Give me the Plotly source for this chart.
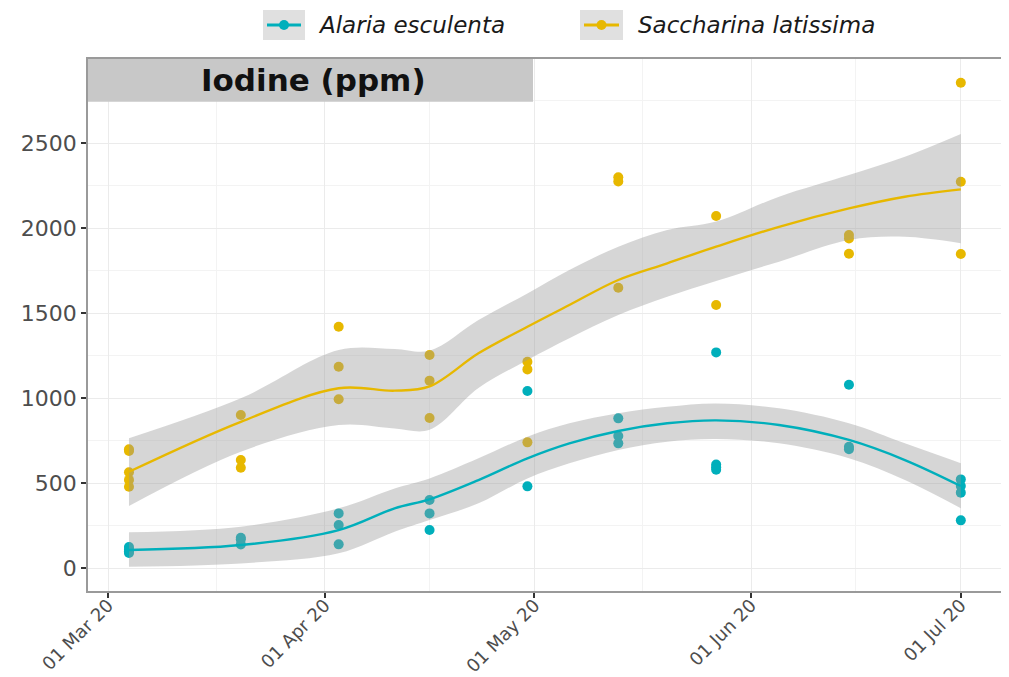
import plotly.graph_objects as go

# ---------------- data ----------------
sample_dates = ["2020-03-04", "2020-03-20", "2020-04-03", "2020-04-16", "2020-04-30",
                "2020-05-13", "2020-05-27", "2020-06-15", "2020-07-01"]

alaria_values = [[125, 110, 100, 90], [180, 170, 140], [323, 255, 141], [402, 323, 225],
                 [1043, 482], [882, 778, 735], [1270, 610, 595, 580], [1080, 715, 700],
                 [523, 484, 445, 282]]

saccharina_values = [[700, 690, 565, 520, 480], [902, 637, 592], [1421, 1186, 994],
                     [1255, 1104, 884], [1215, 1170, 741], [2300, 2275, 1650], [2072, 1549],
                     [1960, 1940, 1850], [2856, 2274, 1849]]

smooth_dates = ["2020-03-04", "2020-03-20", "2020-04-03", "2020-04-11", "2020-04-16",
                "2020-04-23", "2020-04-30", "2020-05-06", "2020-05-13", "2020-05-20",
                "2020-05-27", "2020-06-05", "2020-06-15", "2020-06-23", "2020-07-01"]

alaria_fit = [108, 137, 225, 353, 406, 519, 647, 735, 808, 853, 870, 843, 755, 637, 484]
alaria_upper = [212, 245, 353, 470, 529, 647, 774, 853, 912, 950, 970, 941, 853, 735, 618]
alaria_lower = [9, 29, 88, 215, 284, 382, 529, 618, 696, 745, 760, 735, 647, 519, 353]

sacch_fit = [568, 862, 1059, 1045, 1070, 1265, 1421, 1549, 1696, 1794, 1892, 2009, 2117, 2186, 2229]
sacch_upper = [765, 1000, 1284, 1290, 1280, 1460, 1617, 1755, 1892, 1990, 2040, 2186, 2313, 2421, 2555]
sacch_lower = [367, 686, 843, 823, 815, 1060, 1225, 1353, 1490, 1597, 1690, 1804, 1931, 1950, 1912]

species = ["Alaria esculenta", "Saccharina latissima"]
colors = ["#00AFBB", "#E7B800"]

y_ticks = [0, 500, 1000, 1500, 2000, 2500]
y_minor = [250, 750, 1250, 1750, 2250, 2750]
x_ticks = ["2020-03-01", "2020-04-01", "2020-05-01", "2020-06-01", "2020-07-01"]
x_tick_labels = ["01 Mar 20", "01 Apr 20", "01 May 20", "01 Jun 20", "01 Jul 20"]
x_minor = ["2020-03-16 12:00", "2020-04-16", "2020-05-16 12:00", "2020-06-16"]

panel_title = "Iodine (ppm)"

# ---------------- figure ----------------
OFF = 8  # default page body margin in the browser
W, H = 1009 - OFF, 677 - OFF
ML, MT = 88 - OFF, 59 - OFF
MR = W - (1001 - OFF)
MB = H - (591 - OFF)
PW, PH = W - ML - MR, H - MT - MB
FONT = "DejaVu Sans, Liberation Sans, Arial, sans-serif"


def px(xp):
    # xp: pixel x in the reference window
    return (xp - OFF - ML) / PW


def py(yp):
    # yp: pixel y in the reference window
    return (H - MB - (yp - OFF)) / PH


fig = go.Figure()


def flat(dates, vals):
    xs, ys = [], []
    for d, vs in zip(dates, vals):
        for v in vs:
            xs.append(d)
            ys.append(v)
    return xs, ys


for vals, col in zip([alaria_values, saccharina_values], colors):
    xs, ys = flat(sample_dates, vals)
    fig.add_trace(go.Scatter(x=xs, y=ys, mode="markers",
                             marker=dict(color=col, size=10, line=dict(width=0)),
                             showlegend=False, hoverinfo="skip"))

for fit, lo, up, col in [(alaria_fit, alaria_lower, alaria_upper, colors[0]),
                         (sacch_fit, sacch_lower, sacch_upper, colors[1])]:
    fig.add_trace(go.Scatter(x=smooth_dates, y=lo, mode="lines",
                             line=dict(width=0, shape="spline"), showlegend=False,
                             hoverinfo="skip"))
    fig.add_trace(go.Scatter(x=smooth_dates, y=up, mode="lines", fill="tonexty",
                             fillcolor="rgba(153,153,153,0.4)",
                             line=dict(width=0, shape="spline"), showlegend=False,
                             hoverinfo="skip"))
    fig.add_trace(go.Scatter(x=smooth_dates, y=fit, mode="lines",
                             line=dict(color=col, width=2.4, shape="spline"),
                             showlegend=False, hoverinfo="skip"))

fig.update_layout(
    width=W, height=H,
    margin=dict(l=ML, r=MR, t=MT, b=MB),
    paper_bgcolor="white", plot_bgcolor="white",
    showlegend=False,
    xaxis=dict(
        type="date", automargin=False,
        range=["2020-02-27 03:20", "2020-07-06 18:00"],
        tickmode="array", tickvals=x_ticks, ticktext=x_tick_labels,
        tickangle=-45, tickfont=dict(family=FONT, size=18, color="#4d4d4d"),
        ticklabelstandoff=-10,
        showgrid=True, gridcolor="#ebebeb", gridwidth=1.2,
        minor=dict(tickmode="array", tickvals=x_minor, showgrid=True,
                   gridcolor="#f3f3f3", gridwidth=0.7, ticks=""),
        ticks="outside", ticklen=5, tickwidth=1.5, tickcolor="#333333",
        showline=True, linecolor="#9a9a9a", linewidth=1.5, mirror=True,
        zeroline=False,
    ),
    yaxis=dict(
        range=[-133.5, 2996], automargin=False,
        tickmode="array", tickvals=y_ticks,
        tickfont=dict(family=FONT, size=22, color="#4d4d4d"),
        showgrid=True, gridcolor="#ebebeb", gridwidth=1.2,
        minor=dict(tickmode="array", tickvals=y_minor, showgrid=True,
                   gridcolor="#f3f3f3", gridwidth=0.7, ticks=""),
        ticks="outside", ticklen=5, tickwidth=1.5, tickcolor="#333333",
        showline=True, linecolor="#9a9a9a", linewidth=1.5, mirror=True,
        zeroline=False,
    ),
)

# facet strip (covers the left part of the panel top)
fig.add_shape(type="rect", xref="paper", yref="paper",
              x0=0, x1=px(533), y0=py(101.7), y1=1,
              fillcolor="#c8c8c8", line=dict(width=0), layer="above")
fig.add_annotation(xref="paper", yref="paper", x=px(313.5), y=py(80),
                   text="<b>" + panel_title + "</b>", showarrow=False,
                   xanchor="center", yanchor="middle",
                   font=dict(family=FONT, size=31, color="#111111"))

# manual legend
legend_boxes = [(263, 305), (580, 623)]
legend_text_x = [316, 636]
for (x0, x1), tx, name, col in zip(legend_boxes, legend_text_x, species, colors):
    fig.add_shape(type="rect", xref="paper", yref="paper",
                  x0=px(x0), x1=px(x1), y0=py(40), y1=py(10),
                  fillcolor="#e0e0e0", line=dict(width=0))
    fig.add_shape(type="line", xref="paper", yref="paper",
                  x0=px(x0 + 4), x1=px(x1 - 4), y0=py(25), y1=py(25),
                  line=dict(color=col, width=3))
    cx = (x0 + x1) / 2
    fig.add_shape(type="circle", xref="paper", yref="paper",
                  x0=px(cx - 5), x1=px(cx + 5), y0=py(30), y1=py(20),
                  fillcolor=col, line=dict(width=0))
    fig.add_annotation(xref="paper", yref="paper", x=px(tx), y=py(25),
                       text="<i>" + name + "</i>", showarrow=False,
                       xanchor="left", yanchor="middle",
                       font=dict(family=FONT, size=23, color="#1a1a1a"))

fig.write_html("out.html")
